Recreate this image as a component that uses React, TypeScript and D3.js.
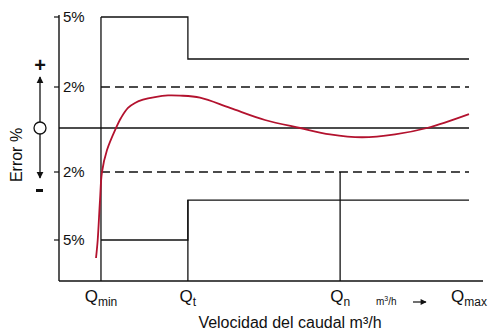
import React from "react";
import * as d3 from "d3";

// error limits (%) and flow positions (schematic units)
const yTicks = [5, 2, -2, -5];
const yTickLabels = ["5%", "2%", "2%", "5%"];

const qNames = ["min", "t", "n", "max"];
const qPos = [0.99, 3.04, 6.63, 9.67];

// upper / lower error envelope steps
const upperErr = [5, 3.2];
const lowerErr = [-5, -3.24];
const dashedErr = [2, -2];

// meter error curve
const curveX = [0.873, 0.913, 0.967, 1.014, 1.132, 1.344, 1.462, 1.627, 1.792, 1.981, 2.264, 2.571, 2.854, 3.325, 4.033, 4.858, 5.684, 6.392, 7.146, 7.925, 8.679, 9.67];
const curveErr = [-5.79, -5, -3.24, -2, -1.0, 0, 0.49, 0.98, 1.22, 1.38, 1.51, 1.59, 1.58, 1.48, 0.98, 0.39, 0, -0.29, -0.42, -0.29, 0, 0.68];

const W = 492;
const H = 334;
const font = "'Liberation Sans', Arial, sans-serif";

export default function App() {
  const x = d3.scaleLinear().domain([0, 10]).range([59, 483]);
  // schematic, piecewise y scale
  const y = d3
    .scaleLinear()
    .domain([-6.8, -5, -2, 0, 2, 5, 5.1])
    .range([281, 240, 172, 128, 87, 17, 15]);

  const [qMin, qT, qN, qMax] = qPos.map((d) => x(d));

  const line = d3
    .line<number>()
    .x((_, i) => x(curveX[i]))
    .y((d) => y(d))
    .curve(d3.curveCatmullRom.alpha(0.5));

  const upperPath = `M${qMin},${y(upperErr[0])}H${qT}V${y(upperErr[1])}H${qMax}`;
  const lowerPath = `M${qMin},${y(lowerErr[0])}H${qT}V${y(lowerErr[1])}H${qMax}`;

  const stroke = "#111";
  return (
    <svg
      width={W}
      height={H}
      style={{ position: "absolute", left: 0, top: 0, background: "#fff" }}
      fontFamily={font}
    >
      <defs>
        <marker id="ah" viewBox="0 0 10 10" refX="9" refY="5" markerWidth="7" markerHeight="9" orient="auto-start-reverse" markerUnits="userSpaceOnUse">
          <path d="M0,0L10,5L0,10z" fill={stroke} />
        </marker>
        <marker id="ah2" viewBox="0 0 10 10" refX="9" refY="5" markerWidth="9" markerHeight="6" orient="auto" markerUnits="userSpaceOnUse">
          <path d="M0,0L10,5L0,10z" fill={stroke} />
        </marker>
      </defs>

      {/* axes */}
      <line x1={x(0)} x2={x(0)} y1={y(5.1)} y2={y(-6.8)} stroke={stroke} strokeWidth={1.4} />
      <line x1={x(0)} x2={x(10)} y1={y(-6.8)} y2={y(-6.8)} stroke={stroke} strokeWidth={1.4} />

      {yTicks.map((t, i) => (
        <g key={t}>
          <line x1={x(0) - 5} x2={x(0)} y1={y(t)} y2={y(t)} stroke={stroke} strokeWidth={1.2} />
          <text x={x(0) + 4} y={y(t)} dy="0.36em" fontSize={15} fill="#111">
            {yTickLabels[i]}
          </text>
        </g>
      ))}

      {/* reference lines */}
      <line x1={x(0)} x2={qMax} y1={y(0)} y2={y(0)} stroke={stroke} strokeWidth={1.3} />
      {dashedErr.map((d) => (
        <line key={d} x1={qMin} x2={qMax} y1={y(d)} y2={y(d)} stroke={stroke} strokeWidth={1.3} strokeDasharray="9,5" />
      ))}

      {/* envelope */}
      <line x1={qMin} x2={qMin} y1={y(upperErr[0])} y2={y(-6.8)} stroke={stroke} strokeWidth={1.3} />
      <path d={upperPath} fill="none" stroke={stroke} strokeWidth={1.3} />
      <path d={lowerPath} fill="none" stroke={stroke} strokeWidth={1.3} />
      <line x1={qT} x2={qT} y1={y(lowerErr[1])} y2={y(-6.8)} stroke={stroke} strokeWidth={1.3} />
      <line x1={qN} x2={qN} y1={y(-2)} y2={y(-6.8)} stroke={stroke} strokeWidth={1.3} />

      {/* error curve */}
      <path d={line(curveErr) || ""} fill="none" stroke="#b3122e" strokeWidth={1.8} />

      {/* Q labels */}
      {qNames.map((n, i) => (
        <text key={n} x={x(qPos[i])} y={302} textAnchor="middle" fontSize={17} fill="#111">
          Q<tspan fontSize={12} dy={4}>{n}</tspan>
        </text>
      ))}
      <text x={376} y={305} fontSize={10} fill="#111">
        m<tspan fontSize={7} dy={-4}>3</tspan>
        <tspan dy={4}>/h</tspan>
      </text>
      <line x1={413} x2={426} y1={302} y2={302} stroke={stroke} strokeWidth={1.2} markerEnd="url(#ah2)" />

      <text x={290} y={328} textAnchor="middle" fontSize={16} fill="#111">
        Velocidad del caudal m³/h
      </text>

      {/* left: error legend */}
      <text transform={`translate(22,155) rotate(-90)`} textAnchor="middle" fontSize={16} fill="#111">
        Error %
      </text>
      <text x={40} y={65} dy="0.36em" textAnchor="middle" fontSize={20} fontWeight="bold" fill="#111">
        +
      </text>
      <circle cx={40} cy={y(0)} r={6} fill="none" stroke={stroke} strokeWidth={1.3} />
      <line x1={40} x2={40} y1={y(0) - 6} y2={77} stroke={stroke} strokeWidth={1.3} markerEnd="url(#ah)" />
      <line x1={40} x2={40} y1={y(0) + 6} y2={178} stroke={stroke} strokeWidth={1.3} markerEnd="url(#ah)" />
      <rect x={36} y={189} width={7} height={3} fill="#111" />
    </svg>
  );
}
